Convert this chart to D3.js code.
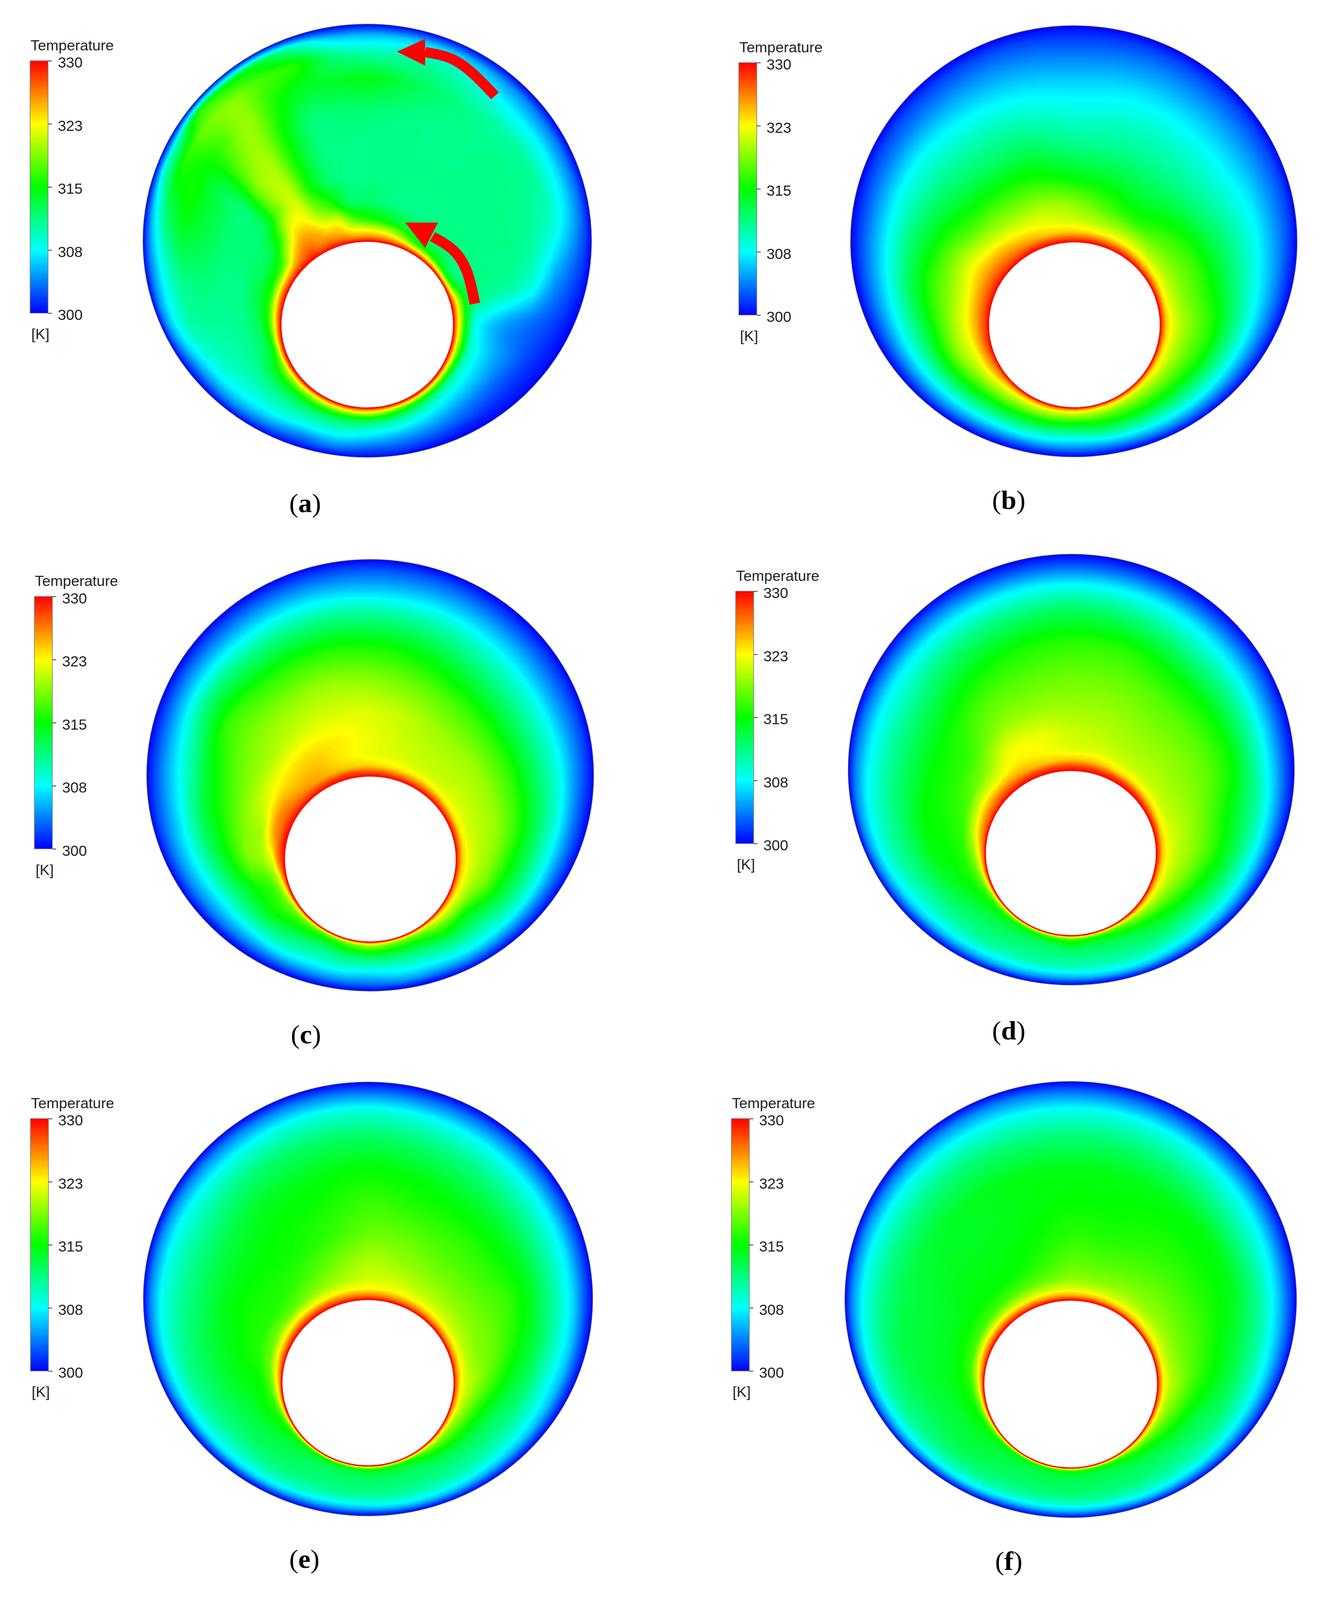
<!DOCTYPE html>
<html>
<head>
<meta charset="utf-8">
<script src="https://d3js.org/d3.v7.min.js"></script>
<style>
  html, body { margin: 0; height: 100%; background: #fff; overflow: hidden; }
  #chart { width: 100vw; height: 100vh; }
  svg { display: block; width: 100%; height: 100%; }
</style>
</head>
<body>
<div id="chart"></div>
<script>
// polar sampling grid: angle round the hot tube (0 = up, clockwise),
// and fraction of the way from tube wall (0) to outer wall (1)
var angleDeg = d3.range(0, 360, 15);
var angleDegA = [0,15,30,45,60,75,90,105,120,135,150,165,180,195,210,225,240,255,270,285,300,307.5,315,322.5,330,337.5,345,352.5];
var wallFraction = [0, .02, .05, .1, .18, .3, .45, .6, .75, .87, .95, 1];

// temperatures in K, one row per angle
var tempA = [
  [330,326,322.5,316,312,311,311,311.5,314.5,310,305.5,300],
  [330,325.5,321,314,311,311,311,311,312,310,306,300],
  [330,324,316,312,311,311,311,311,310.5,307.5,304.5,300],
  [330,323,315,312,311,311,311,311,310.5,307,303.5,300],
  [330,322,314,311,311,311,311,310.5,309,306,303,300],
  [330,326,321,314,311,310.5,310,308.5,305,303,301.5,300],
  [330,326,321.5,314.5,308,306,304.5,303.5,302.5,301.5,300.5,300],
  [330,327,322,316,309.5,307,305,303.5,302,301,300.5,300],
  [330,327,322.5,316,310,307.5,305.5,303.5,302,301,300.5,300],
  [330,327.5,323,317,311.5,308,306,304,302.5,301,300.5,300],
  [330,328,324,318,313,309.5,307,305,303,301.5,300.5,300],
  [330,328,324.5,319.5,315,310.5,308,305.5,303.5,302,301,300],
  [330,328,325,322,316,311.5,308.5,306.5,304,302,301,300],
  [330,328,325,321.5,316,312,309.5,307.5,305,303,301,300],
  [330,328,324.5,320.5,316,312,309.5,307.5,304.5,302.5,301,300],
  [330,328,324,320,315.5,312,310,308.5,306,303.5,301.5,300],
  [330,328,323.5,319,315,312,310,308.5,307,304.5,302,300],
  [330,327.5,323,315.5,312.5,311,310,309.5,308,305,302,300],
  [330,327,322.5,316,312.5,311,310.5,310.5,310,307.5,304,300],
  [330,327.5,323,316,313,311,311,311.5,311,308,304,300],
  [330,327,323,316,312.5,311.5,311.5,313,314.5,311.5,306,300],
  [330,327.5,324,318,313,311.5,311.5,313,315.5,314.5,308.5,300],
  [330,328,326,323,317,312.5,312,313,315,316.5,310,300],
  [330,328.5,327,325.5,322.5,318,319,318,317,318.5,316,300],
  [330,327.5,326,325,322.5,321,320,319.5,319.5,319,315,300],
  [330,327.5,325.5,323,319,315.5,315,315,316,317,314,300],
  [330,327,324.5,322.5,316,312,311.5,311.5,314,316,310,300],
  [330,326,323,318,312,311,311,311.5,314,311.5,306,300]
];
var tempB = [
  [330,327,323.5,321,319,314.5,311,308.5,306,303.5,301.5,300],
  [330,327,323,320,317,314,311,309,306.5,304,302,300],
  [330,327,323,320,316,313.5,311,309,306.5,304,302,300],
  [330,326.5,323,320,317.5,315,311.5,309,306.5,304,302,300],
  [330,326.5,323,320.5,318.5,316.5,313,310,307,304,302,300],
  [330,327,323,321,319,317,314,310.5,307,304,301.5,300],
  [330,327,324,322,320,318,315.5,311.5,307.5,304,301.5,300],
  [330,327,324,322,320,318,315.5,311.5,307.5,304,301.5,300],
  [330,327,324,322,320,317.5,314.5,311,307.5,304,301.5,300],
  [330,327,324,321.5,319.5,317,314,310.5,307,304,301.5,300],
  [330,327,324,321.5,319,316.5,313.5,310,306.5,303.5,301,300],
  [330,327,324,321.5,319,316,313,309.5,306,303,301,300],
  [330,327.5,324.5,322,319,315.5,312,308.5,305.5,303,301,300],
  [330,328,325,322.5,319.5,316,312.5,309,306,303,301,300],
  [330,328,325,322.5,320,316.5,313,309.5,306,303,301,300],
  [330,328,325.5,323,320.5,317.5,313.5,310,306.5,303.5,301,300],
  [330,328,326,324.5,321.5,318.5,315,311,307,304,301.5,300],
  [330,328.5,327,325,322,320,316,311.5,307.5,304,301.5,300],
  [330,328.5,327,325,322.5,319.5,315.5,311.5,307.5,304,301.5,300],
  [330,328.5,327,325,322,319,316,312,307.5,304,301.5,300],
  [330,328.5,327,325,322.5,319,315,311.5,307.5,304,301.5,300],
  [330,328,326.5,324.5,321,317,313.5,310.5,307.5,304,302,300],
  [330,328,325.5,323,320,316.5,312.5,310,307,304,302,300],
  [330,327.5,324,322,320,316,312.5,309.5,306.5,304,302,300]
];
var tempC = [
  [330,327.5,323.5,322,322,321.5,319,315.5,310.5,305.5,302.5,300],
  [330,327,323,321.5,321,320.5,318,314.5,310,305.5,302.5,300],
  [330,327,323,321,320.5,319.5,317,313,309,305,302,300],
  [330,327,323,321,320.5,319.5,316.5,312.5,308.5,304.5,302,300],
  [330,327,323,321.5,320.5,319.5,316.5,312.5,308.5,304.5,302,300],
  [330,327,323.5,321.5,320.5,319.5,316.5,312.5,308.5,304,301.5,300],
  [330,327,324,322,320.5,319,315.5,312,308,304,301.5,300],
  [330,327,324,322,320,318,314.5,311.5,308,304,301.5,300],
  [330,327,324,321.5,319,315,312.5,310,307.5,304,301.5,300],
  [330,326,323,320.5,318,315,312,309.5,307,304,301.5,300],
  [330,325,321,318,315.5,313,310.5,308.5,306,303.5,301,300],
  [330,325,320,317.5,315.5,312.5,310,308,306,303.5,301,300],
  [330,326,322,318.5,316,312.5,310,307.5,305,303,301,300],
  [330,325,320,317,315,312,310,308,305.5,303,301,300],
  [330,324,319,316,314,311.5,310,308,305.5,303,301,300],
  [330,325,320,317,315.5,313,311,309,306,303,301,300],
  [330,326,321,318,316.5,315,312.5,309.5,306,303.5,301,300],
  [330,327,323,319,316.5,315.5,313,310,306.5,304,301.5,300],
  [330,328.5,326.5,322,319.5,318.5,315,311.5,307.5,304.5,302,300],
  [330,329,327,325,320,319,316,313,308,304.5,302,300],
  [330,328.5,327,325.5,322,319.5,317,314,309,305,302,300],
  [330,328,326,324.5,323,320,318.5,316.5,311.5,306,302.5,300],
  [330,328,325,324.5,323.5,321,319,316,311,306,302.5,300],
  [330,328,324,323,323,321.5,319.5,316,311,306,302.5,300]
];
var tempD = [
  [330,328,324,321.5,321,319.5,318,316,312,307,302.5,300],
  [330,328,324,321.5,320.5,319.5,318,316,311.5,307,302.5,300],
  [330,328,323.5,321,320,319,317.5,315,310.5,306.5,302.5,300],
  [330,328,323.5,321,320,319,317.5,315,310.5,306,302.5,300],
  [330,327.5,323.5,321,320,319,317.5,315,310,305.5,302,300],
  [330,327.5,323.5,321.5,320.5,319,316.5,313.5,310,305.5,302,300],
  [330,327.5,324,322,320.5,319,316.5,313.5,309.5,305.5,302,300],
  [330,327,324,322,320,318,315,312.5,309,305.5,302,300],
  [330,327,324,321.5,319,316,313.5,311,308.5,305.5,302,300],
  [330,326.5,323,319.5,317,314,312.5,311,308.5,305.5,302,300],
  [330,325,320,316.5,315,312.5,311.5,310.5,308.5,305.5,302,300],
  [330,324,318.5,315.5,313.5,312,311,310,308,305,301.5,300],
  [330,324,319,316,314.5,312,311,310,307.5,304.5,301.5,300],
  [330,323,318,315,313,311.5,311,310,307.5,304.5,301.5,300],
  [330,323,317,314.5,313,312,311,310,307.5,305,301.5,300],
  [330,323,318,315,313.5,312.5,311.5,310.5,308,305,302,300],
  [330,324.5,319,316,314.5,313,312,310.5,308.5,305.5,302,300],
  [330,326,321,317.5,315.5,314.5,313,311,309,306.5,303,300],
  [330,326,323,319,316,315,314.5,312,310,307.5,304,300],
  [330,327,325,321,316.5,315.5,315,312.5,310,307.5,304,300],
  [330,327.5,325.5,322,317.5,316,315,312.5,310,307,303.5,300],
  [330,328,325.5,322,319,316.5,315.5,313,310,307,303,300],
  [330,328,325,323,322,319,317,314.5,311,307,303,300],
  [330,328,324,322.5,322,319.5,317.5,315.5,311.5,307,302.5,300]
];
var tempE = [
  [330,326,322.5,321,320,318,316.5,315,312,308.5,303.5,300],
  [330,326,322.5,321,319.5,318,316,314.5,311.5,308,303.5,300],
  [330,326,322.5,320.5,319,317.5,316,314,311,307.5,303.5,300],
  [330,326,322.5,320.5,319,317.5,316,314,310.5,307,303,300],
  [330,326,322.5,320.5,319,318,316.5,314,310,306.5,302.5,300],
  [330,326,323,320.5,319,318,315.5,313,309.5,306,302,300],
  [330,326,323,321,319.5,317,314,312,308.5,305.5,302,300],
  [330,326,323,320.5,318,315,312.5,311,308.5,305.5,302,300],
  [330,325.5,322,319,317,314,312,310.5,308.5,305.5,302,300],
  [330,325,321,318,315.5,313,311.5,310.5,308.5,305.5,302,300],
  [330,323.5,318,315,313.5,312,311.5,310.5,308.5,305.5,302,300],
  [330,323,316.5,314,313,312,311.5,310.5,308.5,305.5,302,300],
  [330,324,317.5,314.5,313,312,311.5,310.5,308,305,301.5,300],
  [330,322.5,316,313.5,312.5,312,311.5,310.5,308,305,302,300],
  [330,322,315.5,313.5,312.5,312,311.5,310.5,308.5,305,302,300],
  [330,322.5,316,314,313,312.5,312,311,309,306,302,300],
  [330,323.5,317.5,315,314,313,312.5,311,309,306.5,302.5,300],
  [330,325,319.5,316,315,313.5,312.5,311.5,309.5,307,303,300],
  [330,325,321.5,317,315,314.5,313.5,312,310.5,307.5,304,300],
  [330,326.5,323,318,316,315,314,312.5,310.5,308,304,300],
  [330,327,323,318.5,316,315.5,314.5,312.5,310.5,308,304,300],
  [330,327,323,318,316,315.5,314.5,313,310.5,308,304,300],
  [330,327,322.5,319,317,315.5,315,314,311.5,308,304,300],
  [330,326.5,322.5,320,318.5,316.5,315.5,314.5,312,308.5,304,300]
];
var tempF = [
  [330,325,321.5,319,317.5,316,315,314.5,311.5,308,303.5,300],
  [330,325,321.5,319,317.5,316,315,314.5,311.5,308,303.5,300],
  [330,325,321.5,319.5,318,316.5,315.5,314.5,311,307.5,303,300],
  [330,325,322,319.5,318.5,317,315.5,314.5,310.5,307,303,300],
  [330,325,322,320,318.5,317,315.5,314,310.5,306.5,302.5,300],
  [330,325.5,322,320,318.5,317,315,313,310,306,302.5,300],
  [330,326,322.5,320.5,319,316.5,314.5,312.5,309.5,306,302.5,300],
  [330,326,322.5,320,318,315.5,313,312,309.5,306,302.5,300],
  [330,325.5,322,319,316.5,314,312.5,311,309.5,306,302.5,300],
  [330,325,320.5,317.5,315,313,312,311,309,306,302.5,300],
  [330,323.5,318,315,313.5,312.5,312,311,309,306,302.5,300],
  [330,323,316.5,314,313,312.5,312,311,309,305.5,302,300],
  [330,323.5,317,314.5,313,312.5,312,311,308.5,305.5,302,300],
  [330,322.5,316,313.5,313,312.5,312,311,308.5,305.5,302,300],
  [330,322,315.5,313.5,313,312.5,312,311,309,305.5,302,300],
  [330,322,316,314,313.5,313,312.5,311.5,309.5,306.5,302.5,300],
  [330,323,317.5,315,314,313.5,313,312,310,307,303,300],
  [330,324.5,319,315.5,314.5,313.5,313,312,310.5,307.5,304,300],
  [330,325,321,316.5,315,314,313.5,312.5,311,308,304,300],
  [330,326,322.5,317,315,314,313.5,313,311,308,304,300],
  [330,326.5,322.5,317,315,314,313.5,313,311,308,304,300],
  [330,326.5,322,317,315,314.5,314,313.5,311,308,304,300],
  [330,326,321.5,317.5,315,314.5,314,314,311.5,308,304,300],
  [330,325.5,321.5,318,316,315,314.5,314.5,311.5,308,304,300]
];
var captions = ["a", "b", "c", "d", "e", "f"];
var fields = [tempA, tempB, tempC, tempD, tempE, tempF];
var fieldAngles = [angleDegA, angleDeg, angleDeg, angleDeg, angleDeg, angleDeg];

// colour bar
var legendStops = [300, 307.5, 315, 322.5, 330];
var legendColors = ["#0000ff", "#00ffff", "#00ff00", "#ffff00", "#ff0000"];

// where each panel sits on the page (px)
var layout = [
  {cx: 940,    cy: 638,    R: 574, ix: 940,    iy: 860.5, r: 221,   barX: 77,   barY: 161,  capX: 781, capY: 1357},
  {cx: 2748.5, cy: 639.5,  R: 571.5, ix: 2750, iy: 861,   r: 220,   barX: 1891, barY: 166,  capX: 2582, capY: 1349},
  {cx: 947.5,  cy: 2055,   R: 572, ix: 948,    iy: 2277,  r: 220,   barX: 88,   barY: 1581, capX: 783, capY: 2766},
  {cx: 2742,   cy: 2040,   R: 571, ix: 2741,   iy: 2261,  r: 219,   barX: 1883, barY: 1567, capX: 2582, capY: 2755},
  {cx: 942,    cy: 3443,   R: 575, ix: 942,    iy: 3665,  r: 220.5, barX: 78,   barY: 2965, capX: 779, capY: 4156},
  {cx: 2740.5, cy: 3444.5, R: 578, ix: 2740.5, iy: 3668.5, r: 222.5, barX: 1872, barY: 2965, capX: 2582, capY: 4161}
];
var barW = 46, barH = 669;
var gridStep = 4;   // px between field samples
var levelStep = 0.2; // K between filled contours

var width = 3394, height = 4241;
var svg = d3.select("#chart").append("svg")
  .attr("viewBox", [0, 0, width, height])
  .attr("preserveAspectRatio", "none");
svg.append("rect").attr("width", width).attr("height", height).attr("fill", "#fff");

var colorScale = d3.scaleLinear().domain(legendStops).range(legendColors);
var levels = d3.range(300, 330, levelStep);

var defs = svg.append("defs");
var gradient = defs.append("linearGradient")
  .attr("id", "bar-gradient")
  .attr("x1", 0).attr("y1", 1).attr("x2", 0).attr("y2", 0);
gradient.selectAll("stop")
  .data(legendStops)
  .enter()
  .append("stop")
  .attr("offset", d => (d - 300) / 30)
  .attr("stop-color", d => colorScale(d));

// cubic between p1 and p2, angles may be unevenly spaced
function hermite(p0, p1, p2, p3, a0, a1, a2, a3, t) {
  var h = a2 - a1;
  var m1 = (p2 - p0) / (a2 - a0) * h;
  var m2 = (p3 - p1) / (a3 - a1) * h;
  var t2 = t * t, t3 = t2 * t;
  return (2 * t3 - 3 * t2 + 1) * p1 + (t3 - 2 * t2 + t) * m1 + (-2 * t3 + 3 * t2) * p2 + (t3 - t2) * m2;
}

// read the temperature table at angle / wall fraction
function tempAt(rows, angles, deg, s) {
  var n = rows.length;
  var i = d3.bisectRight(angles, deg) - 1;
  var a1 = angles[i];
  var a0 = i > 0 ? angles[i - 1] : angles[n - 1] - 360;
  var a2 = i + 1 < n ? angles[i + 1] : 360;
  var a3 = i + 2 < n ? angles[i + 2] : angles[i + 2 - n] + 360;
  var t = (deg - a1) / (a2 - a1);
  var j = Math.min(d3.bisectRight(wallFraction, s) - 1, wallFraction.length - 2);
  var g = (s - wallFraction[j]) / (wallFraction[j + 1] - wallFraction[j]);
  var r0 = rows[(i - 1 + n) % n], r1 = rows[i], r2 = rows[(i + 1) % n], r3 = rows[(i + 2) % n];
  var lo = hermite(r0[j], r1[j], r2[j], r3[j], a0, a1, a2, a3, t);
  var hi = hermite(r0[j + 1], r1[j + 1], r2[j + 1], r3[j + 1], a0, a1, a2, a3, t);
  return lo * (1 - g) + hi * g;
}

// sample one panel on a regular grid for d3.contours
function sampleField(rows, angles, p) {
  var x0 = p.cx - p.R - 8, y0 = p.cy - p.R - 8;
  var n = Math.ceil((2 * p.R + 16) / gridStep) + 1;
  var ox = p.cx - p.ix, oy = p.cy - p.iy;
  var values = new Float64Array(n * n);
  for (var row = 0; row < n; row++) {
    for (var col = 0; col < n; col++) {
      var dx = x0 + col * gridStep - p.ix;
      var dy = y0 + row * gridStep - p.iy;
      var dist = Math.hypot(dx, dy) || 1;
      var ux = dx / dist, uy = dy / dist;
      var dot = ux * ox + uy * oy;
      var wall = dot + Math.sqrt(dot * dot - ox * ox - oy * oy + p.R * p.R);
      var s = Math.max(0, Math.min(1, (dist - p.r) / (wall - p.r)));
      var deg = (Math.atan2(ux, -uy) * 180 / Math.PI + 360) % 360;
      values[row * n + col] = tempAt(rows, angles, deg, s);
    }
  }
  return {values: values, n: n, x0: x0, y0: y0};
}

var contourPath = d3.geoPath();

layout.forEach(function(p, idx) {
  var panel = svg.append("g").attr("class", "panel-" + captions[idx]);

  defs.append("clipPath")
    .attr("id", "outer-" + idx)
    .append("circle")
    .attr("cx", p.cx).attr("cy", p.cy).attr("r", p.R);

  var field = sampleField(fields[idx], fieldAngles[idx], p);
  var contours = d3.contours().size([field.n, field.n]).thresholds(levels)(field.values);

  var fill = panel.append("g").attr("clip-path", "url(#outer-" + idx + ")");
  fill.append("rect")
    .attr("x", p.cx - p.R).attr("y", p.cy - p.R)
    .attr("width", 2 * p.R).attr("height", 2 * p.R)
    .attr("fill", colorScale(300));
  fill.append("g")
    .attr("transform", `translate(${field.x0 - gridStep / 2}, ${field.y0 - gridStep / 2}) scale(${gridStep})`)
    .selectAll("path")
    .data(contours)
    .enter()
    .append("path")
    .attr("d", contourPath)
    .attr("fill", d => colorScale(d.value + levelStep / 2));

  // walls
  panel.append("circle")
    .attr("cx", p.cx).attr("cy", p.cy).attr("r", p.R)
    .attr("fill", "none").attr("stroke", "#555").attr("stroke-width", 1.5);
  panel.append("circle")
    .attr("cx", p.ix).attr("cy", p.iy).attr("r", p.r)
    .attr("fill", "#fff").attr("stroke", "#ff0000").attr("stroke-width", 3);

  // colour bar
  var legend = panel.append("g").attr("font-family", "Liberation Sans, Arial, sans-serif").attr("fill", "#222");
  legend.append("rect")
    .attr("x", p.barX).attr("y", p.barY)
    .attr("width", barW).attr("height", barH)
    .attr("fill", "url(#bar-gradient)")
    .attr("stroke", "#777").attr("stroke-width", 1.5);
  legend.append("text")
    .attr("x", p.barX + 1).attr("y", p.barY - 27.5)
    .attr("font-size", 38)
    .text("Temperature");
  legend.append("text")
    .attr("x", p.barX + 3).attr("y", p.barY + barH + 69)
    .attr("font-size", 38)
    .text("[K]");

  var barScale = d3.scaleLinear().domain([300, 330]).range([p.barY + barH, p.barY]);
  var barAxis = d3.axisRight(barScale)
    .tickValues(legendStops)
    .tickSize(10)
    .tickPadding(15)
    .tickFormat(d3.format(".0f"));
  var axisG = legend.append("g")
    .attr("transform", `translate(${p.barX + barW}, 0)`)
    .call(barAxis);
  axisG.select(".domain").remove();
  axisG.selectAll("line").attr("stroke", "#333").attr("stroke-width", 2);
  axisG.selectAll("text")
    .attr("font-family", "Liberation Sans, Arial, sans-serif")
    .attr("font-size", 38)
    .attr("fill", "#222")
    .attr("dy", "0.47em");

  // caption
  var cap = panel.append("text")
    .attr("x", p.capX).attr("y", p.capY)
    .attr("text-anchor", "middle")
    .attr("font-family", "Liberation Serif, serif")
    .attr("font-size", 70)
    .attr("fill", "#000");
  cap.append("tspan").text("(");
  cap.append("tspan").attr("font-weight", "bold").text(captions[idx]);
  cap.append("tspan").text(")");
});

// flow arrows on panel (a)
var arrowLine = d3.line().curve(d3.curveNatural);
var arrowShafts = [
  [[1267, 254], [1215, 199], [1156, 156], [1088, 138]],
  [[1215.5, 805], [1197, 725], [1162, 665], [1107, 627]]
];
var arrowHeads = [
  [[1016, 137], [1088, 103], [1088, 174]],
  [[1037, 590], [1121, 590], [1088, 657]]
];
var arrows = svg.append("g").attr("class", "arrows");
arrows.selectAll("path.shaft")
  .data(arrowShafts)
  .enter()
  .append("path")
  .attr("class", "shaft")
  .attr("d", arrowLine)
  .attr("fill", "none")
  .attr("stroke", "#ff0000")
  .attr("stroke-width", 27);
arrows.selectAll("polygon")
  .data(arrowHeads)
  .enter()
  .append("polygon")
  .attr("points", d => d.join(" "))
  .attr("fill", "#ff0000");
</script>
</body>
</html>
